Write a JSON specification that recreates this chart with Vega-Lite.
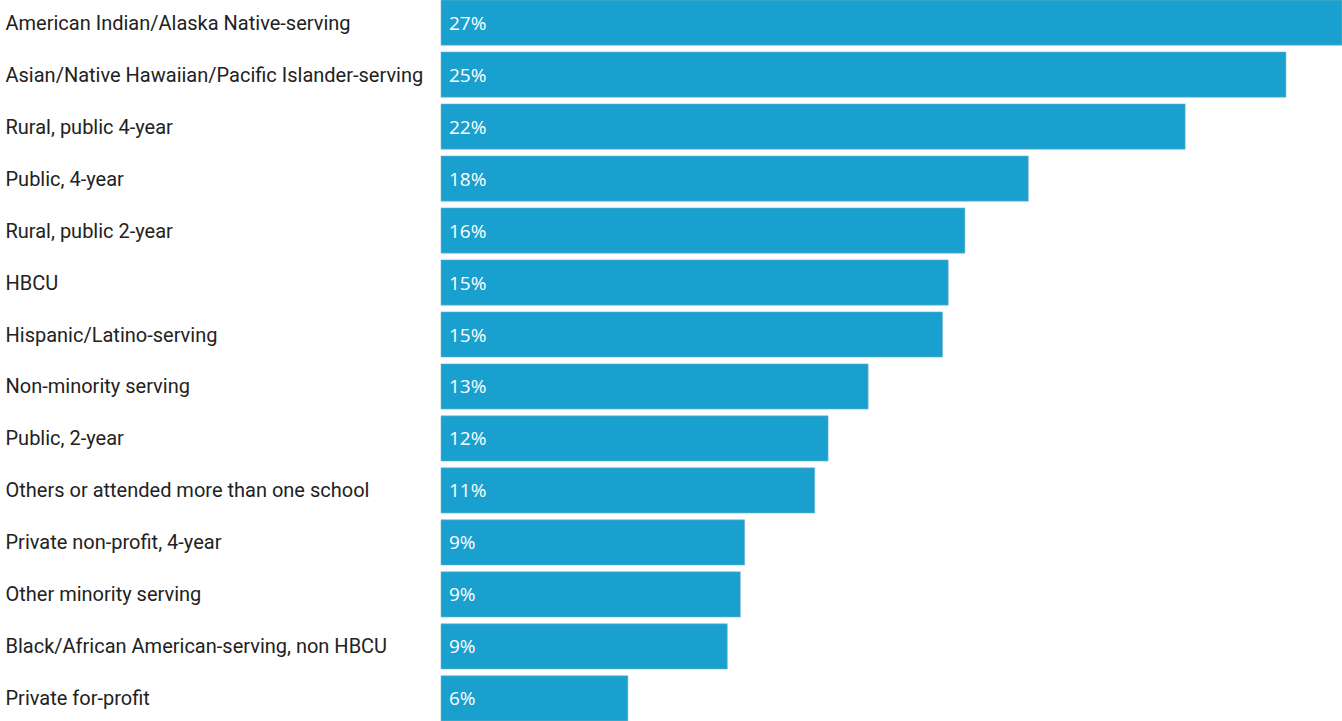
{
  "$schema": "https://vega.github.io/schema/vega-lite/v6.json",
  "width": 901,
  "height": 721,
  "autosize": {"type": "none"},
  "padding": {"left": 441, "top": 0, "right": 0, "bottom": 0},
  "background": "white",
  "config": {"view": {"stroke": null}},
  "data": {"values": [
    {"category": "American Indian/Alaska Native-serving", "value": 0.27},
    {"category": "Asian/Native Hawaiian/Pacific Islander-serving", "value": 0.2532},
    {"category": "Rural, public 4-year", "value": 0.223},
    {"category": "Public, 4-year", "value": 0.176},
    {"category": "Rural, public 2-year", "value": 0.157},
    {"category": "HBCU", "value": 0.152},
    {"category": "Hispanic/Latino-serving", "value": 0.1503},
    {"category": "Non-minority serving", "value": 0.128},
    {"category": "Public, 2-year", "value": 0.116},
    {"category": "Others or attended more than one school", "value": 0.112},
    {"category": "Private non-profit, 4-year", "value": 0.091},
    {"category": "Other minority serving", "value": 0.0897},
    {"category": "Black/African American-serving, non HBCU", "value": 0.0858},
    {"category": "Private for-profit", "value": 0.056}
  ]},
  "encoding": {
    "y": {
      "field": "category", "type": "nominal", "sort": null,
      "scale": {"paddingInner": 0.13, "paddingOuter": 0},
      "axis": {
        "title": null, "domain": false, "ticks": false, "tickSize": 0,
        "labelAlign": "left", "labelPadding": 436, "labelLimit": 432,
        "labelFont": "Roboto", "labelFontSize": 20, "labelColor": "#222222", "labelOffset": 1
      }
    },
    "x": {
      "field": "value", "type": "quantitative",
      "scale": {"domain": [0, 0.27], "nice": false, "zero": true},
      "axis": null
    }
  },
  "layer": [
    {"mark": {"type": "bar", "color": "#1aa0ce", "stroke": "#7fb4c8", "strokeWidth": 0.6}},
    {"mark": {"type": "text", "align": "left", "baseline": "middle", "dx": 8, "dy": 1, "color": "white", "font": "Open Sans", "fontSize": 19},
     "encoding": {"text": {"field": "value", "type": "quantitative", "format": ".0%"}, "x": {"datum": 0}}}
  ]
}
